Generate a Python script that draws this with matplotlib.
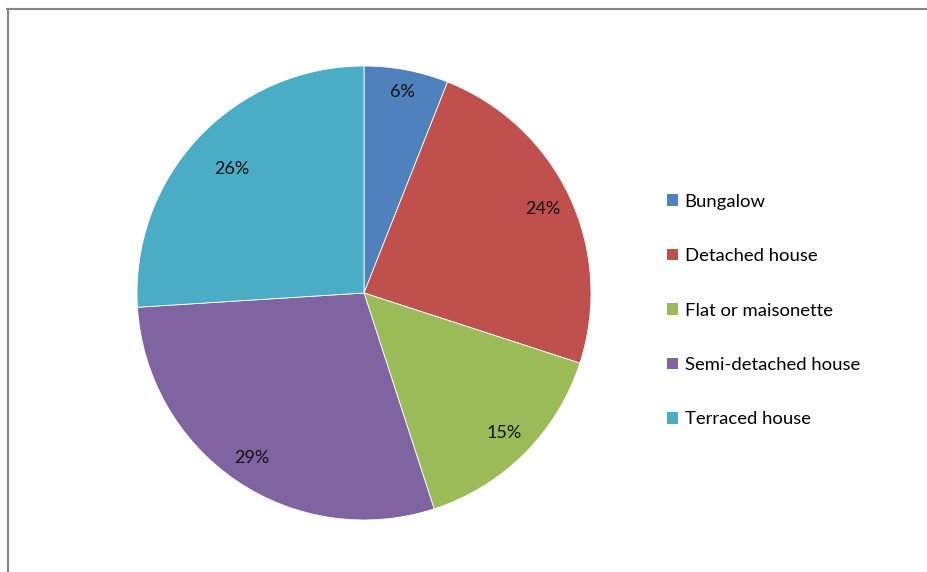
import numpy as np
import matplotlib
matplotlib.use("Agg")
import matplotlib.pyplot as plt
from matplotlib.patches import Patch
from matplotlib.lines import Line2D

# dwelling type shares (percent)
categories = ["Bungalow", "Detached house", "Flat or maisonette",
              "Semi-detached house", "Terraced house"]
shares = [6, 24, 15, 29, 26]
colors = ["#4F81BD", "#C0504D", "#9BBB59", "#8064A2", "#4BACC6"]

plt.rcParams["font.family"] = ["Lato", "DejaVu Sans"]

W, H = 928, 572
fig = plt.figure(figsize=(W / 100, H / 100), dpi=100)

# pie centred at (364, 293) px with radius 227 px
cx, cy, r = 364, 293, 227
ax = fig.add_axes([(cx - r) / W, (H - cy - r) / H, 2 * r / W, 2 * r / H])
wedges, texts = ax.pie(
    shares, colors=colors, startangle=90, counterclock=False, radius=1,
    wedgeprops=dict(edgecolor="white", linewidth=0.6))

# percentage labels, pulled in a little from the rim
label_dist = [0.9, 0.87, 0.87, 0.88, 0.8]
for w, val, d in zip(wedges, shares, label_dist):
    ang = np.deg2rad((w.theta1 + w.theta2) / 2)
    ax.text(d * np.cos(ang), d * np.sin(ang), f"{val}%",
            ha="center", va="center", fontsize=13, color="#111111")

ax.set_xlim(-1, 1)
ax.set_ylim(-1, 1)
ax.set_aspect("equal")
ax.axis("off")

handles = [Patch(facecolor=c, edgecolor="none") for c in colors]
fig.legend(handles, categories, loc="center left",
           bbox_to_anchor=(667 / W, (H - 310.5) / H),
           frameon=False, fontsize=13.3, borderpad=0, borderaxespad=0,
           handlelength=0.58, handleheight=0.58, handletextpad=0.38,
           labelspacing=2.08)

# chart frame (top and left edges)
frame = dict(color="#868686", linewidth=1.5, transform=fig.transFigure)
fig.add_artist(Line2D([7 / W, 1], [(H - 9) / H] * 2, **frame))
fig.add_artist(Line2D([8 / W] * 2, [0, (H - 9) / H], **frame))

fig.savefig("out.png", dpi=100)
